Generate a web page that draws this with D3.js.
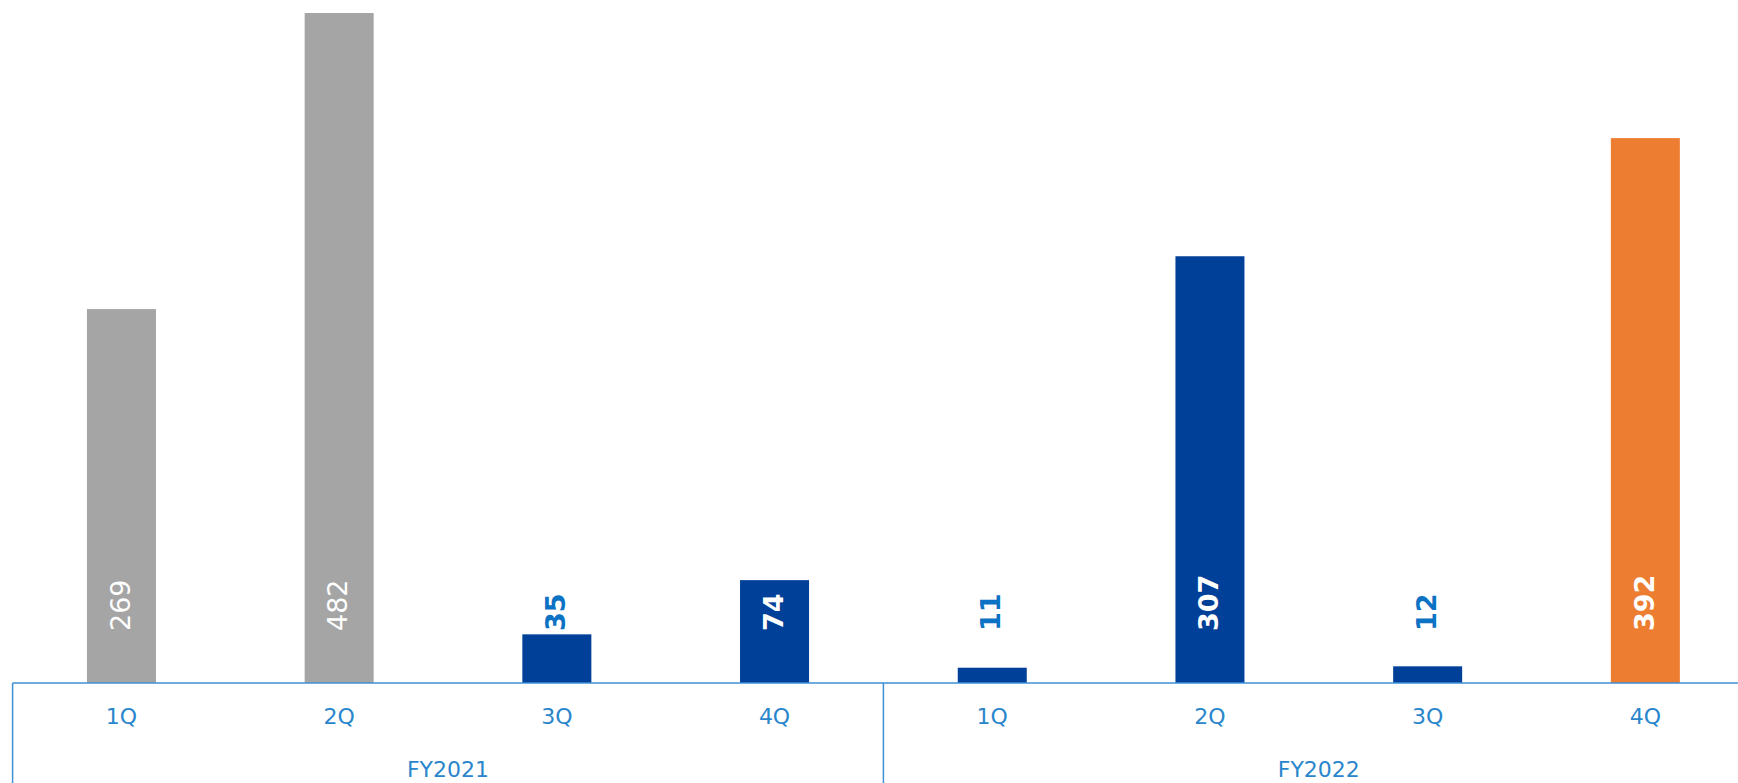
<!DOCTYPE html>
<html>
<head>
<meta charset="utf-8">
<script src="https://cdn.jsdelivr.net/npm/d3@7"></script>
<style>
    html, body { margin: 0; padding: 0; background: #ffffff; }
    svg { display: block; }
</style>
</head>
<body>
<div id="chart"></div>
<script>
// chart data
var years = ["FY2021", "FY2022"];
var quarters = ["1Q", "2Q", "3Q", "4Q"];
var values = [269, 482, 35, 74, 11, 307, 12, 392];
// what each bar stands for (drives the colour)
var kinds = ["prior", "prior", "actual", "actual", "actual", "actual", "actual", "forecast"];

window.onload = function () {

    var width = 1738;
    var height = 783;

    //The baseline of the bars and the left / right edge of the category box.
    var baseY = 683;
    var topY = 13;
    var left = 12.6;
    var right = 1754.2;

    var svg = d3.select("#chart").append("svg")
            .attr("width", width).attr("height", height);

    //One entry per bar.
    var rows = [];
    years.forEach(function (y, yi) {
        quarters.forEach(function (q, qi) {
            var i = yi * quarters.length + qi;
            rows.push({key: y + "-" + q, year: y, quarter: q, value: values[i], kind: kinds[i]});
        });
    });

    var x = d3.scaleBand()
            .domain(rows.map(function (d) { return d.key; }))
            .range([left, right])
            .paddingInner(0.683)
            .paddingOuter(0.3415);

    var xYear = d3.scaleBand().domain(years).range([left, right]).padding(0);

    var y = d3.scaleLinear()
            .domain([0, d3.max(values)])
            .range([baseY, topY]);

    var color = d3.scaleOrdinal()
            .domain(["prior", "actual", "forecast"])
            .range(["#a5a5a5", "#004098", "#ed7d31"]);

    var axisColor = "#3d8fd6";
    var textBlue = "#2a86cc";

    //Draw the bars.
    svg.append("g").selectAll("rect").data(rows).enter()
            .append("rect")
            .attr("x", function (d) { return x(d.key); })
            .attr("y", function (d) { return y(d.value); })
            .attr("width", x.bandwidth())
            .attr("height", function (d) { return baseY - y(d.value); })
            .attr("fill", function (d) { return color(d.kind); });

    //Value labels, rotated, starting a fixed distance above the baseline.
    var labelStart = baseY - 52;
    svg.append("g").selectAll("text").data(rows).enter()
            .append("text")
            .attr("transform", function (d) {
                return "translate(" + (x(d.key) + x.bandwidth() / 2 - 1.5) + "," + labelStart + ") rotate(-90)";
            })
            .attr("dy", "0.36em")
            .attr("text-anchor", "start")
            .style("font-family", "'DejaVu Sans', Verdana, sans-serif")
            .style("font-size", "27px")
            .style("font-weight", function (d) { return d.kind === "prior" ? "normal" : "bold"; })
            .attr("fill", function (d) {
                return y(d.value) < labelStart ? "#ffffff" : "#0b72c4";
            })
            .text(function (d) { return d.value; });

    //The category box.
    var axis = svg.append("g")
            .attr("stroke", axisColor)
            .attr("stroke-width", 1.5)
            .attr("fill", "none");

    axis.append("line")
            .attr("x1", left).attr("x2", right)
            .attr("y1", baseY).attr("y2", baseY);

    axis.selectAll(".sep").data(years.concat(["end"])).enter()
            .append("line")
            .attr("class", "sep")
            .attr("x1", function (d) { return d === "end" ? right : xYear(d); })
            .attr("x2", function (d) { return d === "end" ? right : xYear(d); })
            .attr("y1", baseY).attr("y2", height + 5);

    //Quarter labels.
    svg.append("g").selectAll("text").data(rows).enter()
            .append("text")
            .attr("x", function (d) { return x(d.key) + x.bandwidth() / 2; })
            .attr("y", 724)
            .attr("text-anchor", "middle")
            .style("font-family", "'DejaVu Sans', Verdana, sans-serif")
            .style("font-size", "22px")
            .attr("fill", textBlue)
            .text(function (d) { return d.quarter; });

    //Fiscal year labels.
    svg.append("g").selectAll("text").data(years).enter()
            .append("text")
            .attr("x", function (d) { return xYear(d) + xYear.bandwidth() / 2; })
            .attr("y", 777)
            .attr("text-anchor", "middle")
            .style("font-family", "'DejaVu Sans', Verdana, sans-serif")
            .style("font-size", "22px")
            .attr("fill", textBlue)
            .text(function (d) { return d; });
};
</script>
</body>
</html>
